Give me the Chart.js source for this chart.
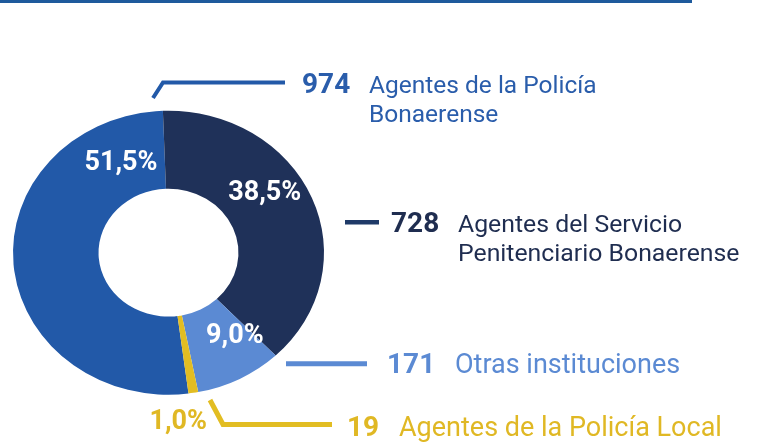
<!DOCTYPE html>
<html>
<head>
<meta charset="utf-8">
<script src="https://cdn.jsdelivr.net/npm/chart.js@4"></script>
<style>
  html, body { margin: 0; padding: 0; background: #fff; }
  #wrap { width: 758px; height: 444px; position: relative; }
</style>
</head>
<body>
<div id="wrap"><canvas id="chart"></canvas></div>
<script>
// Data
var labels = ['Agentes de la Policía Bonaerense', 'Agentes del Servicio Penitenciario Bonaerense', 'Otras instituciones', 'Agentes de la Policía Local'];
var values = [974, 728, 171, 19];
var percents = ['51,5%', '38,5%', '9,0%', '1,0%'];
var textLines = [['Agentes de la Policía', 'Bonaerense'], ['Agentes del Servicio', 'Penitenciario Bonaerense'], ['Otras instituciones'], ['Agentes de la Policía Local']];

// Styles
var sliceColors = ['#2259a8', '#1f3159', '#5b8ad3', '#e2bd22'];
var textColors = ['#2a5dab', '#1f2d50', '#5b8ad3', '#e0b824'];
var lineColors = ['#2259a8', '#1f3a68', '#5b8ad3', '#e2bd22'];
var stretchX = 1.095; // the ring in the picture is a little wider than tall

// percentage labels: angle (deg, clockwise from top) and radius from the centre
var pctPlace = [
  { a: -26, r: 99, color: '#ffffff' },
  { a: 56, r: 106, color: '#ffffff' },
  { a: 144, r: 103, color: '#ffffff' },
  { a: 177, r: 170, color: '#e0b824' }
];

// call-out lines and text at the right
var callouts = [
  { pts: [[153, 98], [163, 82.5], [285, 82.5]], w: 4, numX: 302, textX: 369, y: 92.5, size: 24.5 },
  { pts: [[345, 222.3], [379, 222.3]], w: 4.5, numX: 391, textX: 458, y: 231.5, size: 24.8 },
  { pts: [[286, 363.8], [367, 363.8]], w: 5, numX: 387, textX: 455, y: 373.3, size: 27 },
  { pts: [[210, 400], [223, 424.5], [332, 424.5]], w: 5, numX: 347, textX: 399, y: 435.5, size: 27 }
];

var ellipse = {
  id: 'ellipse',
  beforeDatasetsDraw: function (chart) {
    var arc = chart.getDatasetMeta(0).data[0];
    var ctx = chart.ctx;
    ctx.save();
    ctx.translate(arc.x, arc.y);
    ctx.scale(stretchX, 1);
    ctx.translate(-arc.x, -arc.y);
  },
  afterDatasetsDraw: function (chart) {
    chart.ctx.restore();
  }
};

var annotate = {
  id: 'annotate',
  afterDraw: function (chart) {
    var ctx = chart.ctx;
    var arc = chart.getDatasetMeta(0).data[0];
    ctx.save();

    // top rule
    ctx.fillStyle = '#1e5a9c';
    ctx.fillRect(0, 0, 692, 3);

    // percentages
    ctx.font = 'bold 27px Roboto';
    ctx.textAlign = 'center';
    ctx.textBaseline = 'middle';
    pctPlace.forEach(function (p, i) {
      var rad = p.a * Math.PI / 180;
      var x = arc.x + p.r * Math.sin(rad) * stretchX;
      var y = arc.y - p.r * Math.cos(rad);
      ctx.fillStyle = p.color;
      ctx.fillText(percents[i], x, y);
    });

    // call-outs
    ctx.textAlign = 'left';
    ctx.textBaseline = 'alphabetic';
    callouts.forEach(function (c, i) {
      ctx.strokeStyle = lineColors[i];
      ctx.lineWidth = c.w;
      ctx.lineCap = 'butt';
      ctx.lineJoin = 'miter';
      ctx.beginPath();
      c.pts.forEach(function (pt, j) {
        if (j === 0) ctx.moveTo(pt[0], pt[1]); else ctx.lineTo(pt[0], pt[1]);
      });
      ctx.stroke();

      ctx.fillStyle = textColors[i];
      ctx.font = 'bold 28px Roboto';
      ctx.fillText(String(values[i]), c.numX, c.y);
      ctx.font = c.size + 'px Roboto';
      textLines[i].forEach(function (t, k) {
        ctx.fillText(t, c.textX, c.y + k * 29);
      });
    });
    ctx.restore();
  }
};

var chart = new Chart(document.getElementById('chart'), {
  type: 'doughnut',
  data: {
    labels: labels,
    datasets: [{
      data: values,
      backgroundColor: sliceColors,
      borderWidth: 0
    }]
  },
  options: {
    responsive: true,
    maintainAspectRatio: false,
    animation: false,
    cutout: '45%',
    rotation: 172.6,
    layout: { padding: { left: 26.5, right: 447.5, top: 110.7, bottom: 49.3 } },
    plugins: {
      legend: { display: false },
      tooltip: { enabled: false }
    }
  },
  plugins: [ellipse, annotate]
});
</script>
</body>
</html>
